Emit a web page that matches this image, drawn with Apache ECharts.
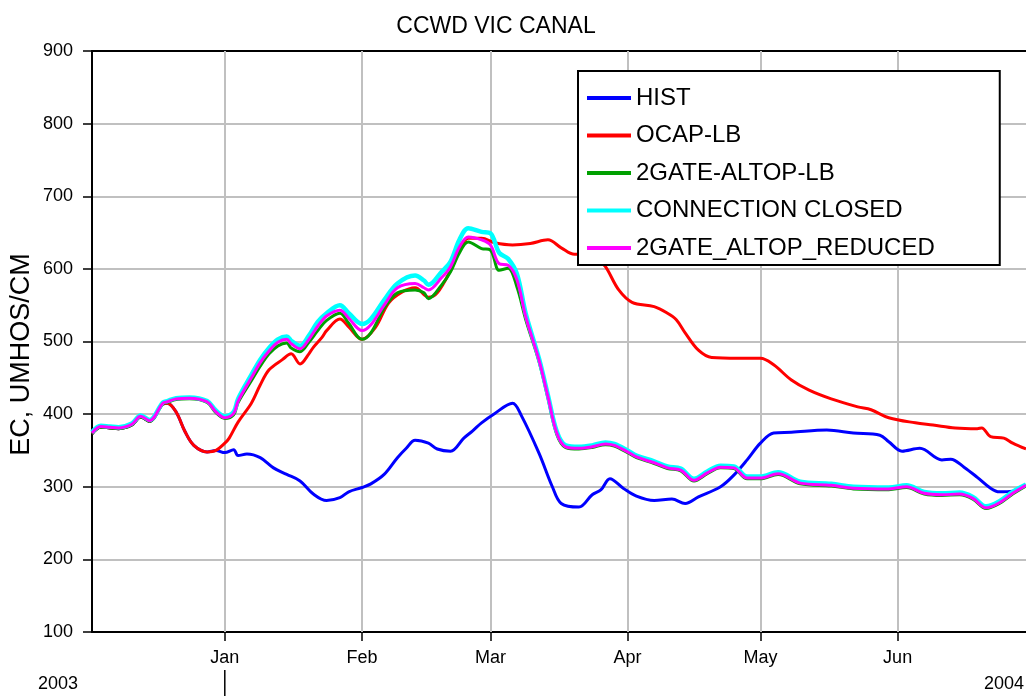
<!DOCTYPE html>
<html>
<head>
<meta charset="utf-8">
<title>CCWD VIC CANAL</title>
<script src="https://cdn.jsdelivr.net/npm/echarts@6/dist/echarts.min.js"></script>
<style>
  html, body { margin: 0; padding: 0; background: #fff; }
  #chart { width: 1026px; height: 696px; }
</style>
</head>
<body>
<div id="chart"></div>
<script>
// day index: 0 = Dec 1 2003
const monthDays = [31, 62, 91, 122, 152, 183]
const monthNames = ['Jan', 'Feb', 'Mar', 'Apr', 'May', 'Jun']
const yearLabels = ['2003', '2004']
const seriesNames = ['HIST', 'OCAP-LB', '2GATE-ALTOP-LB', 'CONNECTION CLOSED', '2GATE_ALTOP_REDUCED']
const seriesColors = ['#0000ff', '#ff0000', '#00a000', '#00ffff', '#ff00ff']

// [day, EC]
const histData = [
  [1, 373], [3, 382], [5, 381], [7, 380], [10, 385], [12, 396], [14, 390], [17, 414], [18, 415],
  [20, 403], [22, 376], [24, 357], [27, 348], [29, 350], [31, 347], [33, 351], [34, 343], [36, 345],
  [39, 340], [42, 326], [45, 317], [48, 308], [51, 290], [54, 281], [57, 285], [59, 293], [62, 299],
  [64, 304], [67, 317], [70, 340], [72, 353], [74, 364], [77, 360], [79, 352], [82, 349], [85, 367],
  [87, 377], [89, 388], [92, 401], [96, 415], [98, 398], [102, 346], [105, 300], [107, 277], [111, 272],
  [114, 289], [116, 296], [118, 311], [121, 298], [124, 287], [128, 281], [132, 283], [135, 277],
  [138, 286], [143, 300], [146, 316], [149, 337], [152, 360], [155, 374], [159, 375], [167, 378],
  [173, 374], [179, 371], [181, 362], [184, 349], [188, 353], [193, 337], [195, 338], [198, 327],
  [201, 313], [204, 298], [206, 293], [209, 294], [212, 302]
]
const ocapData = [
  [1, 373], [3, 382], [5, 381], [7, 380], [10, 385], [12, 396], [14, 390], [17, 414], [18, 415],
  [20, 403], [22, 376], [24, 357], [27, 348], [29, 350], [31, 360], [32, 367], [34, 389], [37, 415],
  [39, 440], [41, 461], [44, 475], [46, 483], [48, 469], [50, 483], [51, 492], [53, 506], [54, 515],
  [57, 531], [59, 520], [62, 503], [65, 519], [68, 553], [71, 568], [74, 574], [77, 561], [79, 567],
  [82, 598], [84, 625], [86, 642], [89, 642], [92, 636], [96, 633], [100, 635], [104, 640], [107, 629],
  [110, 620], [113, 620], [115, 615], [117, 603], [120, 571], [123, 554], [128, 548], [131, 539],
  [133, 530], [135, 512], [138, 488], [141, 478], [147, 477], [152, 477], [155, 468], [159, 447],
  [163, 433], [168, 421], [174, 410], [177, 406], [181, 395], [187, 388], [191, 385], [196, 381],
  [201, 380], [202, 381], [204, 369], [207, 367], [209, 360], [212, 352]
]
const gateLbData = [
  [1, 373], [3, 382], [5, 381], [7, 380], [10, 385], [12, 396], [14, 390], [17, 414], [18, 416],
  [20, 420], [23, 421], [27, 416], [29, 402], [31, 394], [33, 399], [34, 416], [37, 446], [39, 466],
  [41, 483], [43, 494], [45, 498], [46, 491], [48, 486], [50, 499], [52, 515], [54, 529], [57, 539],
  [59, 525], [62, 503], [64, 512], [67, 546], [70, 567], [74, 571], [76, 567], [77, 559], [80, 578],
  [82, 596], [84, 622], [86, 637], [89, 628], [91, 626], [93, 598], [95, 601], [97, 575], [99, 530],
  [102, 472], [104, 422], [106, 372], [108, 354], [111, 352], [114, 354], [117, 358], [119, 356],
  [122, 347], [124, 340], [128, 332], [131, 325], [134, 322], [137, 308], [140, 318], [143, 326],
  [146, 325], [149, 311], [152, 311], [156, 317], [161, 304], [168, 301], [173, 297], [181, 296],
  [185, 299], [189, 290], [193, 288], [197, 289], [200, 283], [203, 270], [206, 277], [209, 290], [212, 301]
]
const closedData = [
  [1, 375], [3, 384], [5, 383], [7, 382], [10, 387], [12, 398], [14, 392], [17, 416], [18, 418],
  [20, 422], [23, 423], [27, 418], [29, 405], [31, 397], [33, 403], [34, 421], [37, 454], [39, 475],
  [41, 491], [43, 503], [45, 507], [46, 501], [48, 494], [50, 508], [52, 527], [54, 539], [57, 550],
  [59, 539], [62, 524], [64, 531], [67, 557], [70, 580], [74, 591], [76, 584], [77, 578], [80, 596],
  [82, 610], [84, 640], [86, 656], [89, 651], [91, 649], [93, 622], [95, 614], [97, 593], [99, 538],
  [102, 476], [104, 426], [106, 376], [108, 357], [111, 355], [114, 357], [117, 361], [119, 359],
  [122, 350], [124, 343], [128, 335], [131, 328], [134, 325], [137, 311], [140, 321], [143, 329],
  [146, 328], [149, 314], [152, 314], [156, 320], [161, 307], [168, 304], [173, 300], [181, 299],
  [185, 302], [189, 293], [193, 291], [197, 292], [200, 286], [203, 273], [206, 280], [209, 293], [212, 303]
]
const reducedData = [
  [1, 374], [3, 383], [5, 382], [7, 381], [10, 386], [12, 397], [14, 391], [17, 415], [18, 417],
  [20, 421], [23, 422], [27, 417], [29, 403], [31, 395], [33, 401], [34, 418], [37, 450], [39, 471],
  [41, 487], [43, 499], [45, 503], [46, 497], [48, 490], [50, 503], [52, 521], [54, 535], [57, 543],
  [59, 532], [62, 515], [64, 523], [67, 550], [70, 574], [74, 580], [76, 574], [77, 571], [80, 588],
  [82, 603], [84, 630], [86, 644], [89, 640], [91, 633], [93, 607], [95, 605], [97, 585], [99, 534],
  [102, 474], [104, 424], [106, 374], [108, 355], [111, 353], [114, 355], [117, 359], [119, 357],
  [122, 348], [124, 341], [128, 333], [131, 326], [134, 323], [137, 309], [140, 319], [143, 327],
  [146, 326], [149, 312], [152, 312], [156, 318], [161, 305], [168, 302], [173, 298], [181, 297],
  [185, 300], [189, 291], [193, 289], [197, 290], [200, 284], [203, 271], [206, 278], [209, 291], [212, 302]
]
const allData = [histData, ocapData, gateLbData, closedData, reducedData]
const lineWidths = [3, 3, 3, 4.5, 3]

const FONT = 'Liberation Sans, Arial, sans-serif'
const chart = echarts.init(document.getElementById('chart'))

const series = [
  // month grid lines
  {
    type: 'line',
    name: 'grid',
    data: [],
    silent: true,
    z: 1,
    markLine: {
      silent: true,
      z: 1,
      symbol: 'none',
      animation: false,
      label: { show: false },
      lineStyle: { color: '#c0c0c0', width: 2, type: 'solid' },
      data: monthDays.map(d => ({ xAxis: d }))
    }
  }
]
seriesNames.forEach((name, i) => {
  series.push({
    type: 'line',
    name: name,
    data: allData[i],
    showSymbol: false,
    smooth: 0.35,
    color: seriesColors[i],
    lineStyle: { width: lineWidths[i], color: seriesColors[i] }
  })
})

chart.setOption({
  animation: false,
  title: {
    text: 'CCWD VIC CANAL',
    left: 491,
    top: 10,
    textAlign: 'center',
    textStyle: { fontFamily: FONT, fontSize: 23, fontWeight: 'normal', color: '#000' }
  },
  legend: {
    data: seriesNames,
    orient: 'vertical',
    left: 578,
    top: 71,
    z: 10,
    icon: 'rect',
    itemWidth: 44,
    itemHeight: 4,
    itemGap: 13.5,
    padding: [15, 65, 5, 9],
    backgroundColor: '#fff',
    borderColor: '#000',
    borderWidth: 2,
    textStyle: { fontFamily: FONT, fontSize: 24, color: '#000' }
  },
  grid: { left: 92, right: 0, top: 51, bottom: 64, outerBoundsMode: 'none', containLabel: false },
  xAxis: [
    {
      type: 'value',
      min: 1,
      max: 212,
      axisLine: { lineStyle: { color: '#000', width: 2 } },
      axisTick: { show: true, customValues: monthDays, length: 9, lineStyle: { color: '#000', width: 1.5 } },
      axisLabel: {
        customValues: monthDays,
        margin: 17,
        fontFamily: FONT,
        fontSize: 18,
        color: '#000',
        formatter: v => monthNames[monthDays.indexOf(v)] || ''
      },
      splitLine: { show: false }
    },
    {
      type: 'value',
      position: 'top',
      min: 1,
      max: 212,
      axisLine: { show: true, lineStyle: { color: '#000', width: 2 } },
      axisTick: { show: false },
      axisLabel: { show: false },
      splitLine: { show: false }
    }
  ],
  yAxis: {
    type: 'value',
    min: 100,
    max: 900,
    interval: 100,
    name: 'EC, UMHOS/CM',
    nameLocation: 'middle',
    nameGap: 57,
    nameMoveOverlap: false,
    nameTextStyle: { fontFamily: FONT, fontSize: 27, color: '#000', padding: [0, 26, 0, 0] },
    axisLine: { show: true, lineStyle: { color: '#000', width: 2 } },
    axisTick: { show: true, length: 9, lineStyle: { color: '#000', width: 1.5 } },
    axisLabel: { margin: 19, fontFamily: FONT, fontSize: 18, color: '#000' },
    splitLine: { lineStyle: { color: '#c0c0c0', width: 2 } }
  },
  series: series
})

// year labels under the month axis
const janX = chart.convertToPixel({ xAxisIndex: 0 }, monthDays[0])
chart.setOption({
  graphic: [
    {
      type: 'text', left: 38, top: 675,
      style: { text: yearLabels[0], fontFamily: FONT, fontSize: 18, fill: '#000' }
    },
    {
      type: 'text', right: 2, top: 675,
      style: { text: yearLabels[1], fontFamily: FONT, fontSize: 18, fill: '#000' }
    },
    {
      type: 'line',
      shape: { x1: janX, y1: 670, x2: janX, y2: 696 },
      style: { stroke: '#000', lineWidth: 1.5 }
    }
  ]
})
</script>
</body>
</html>
